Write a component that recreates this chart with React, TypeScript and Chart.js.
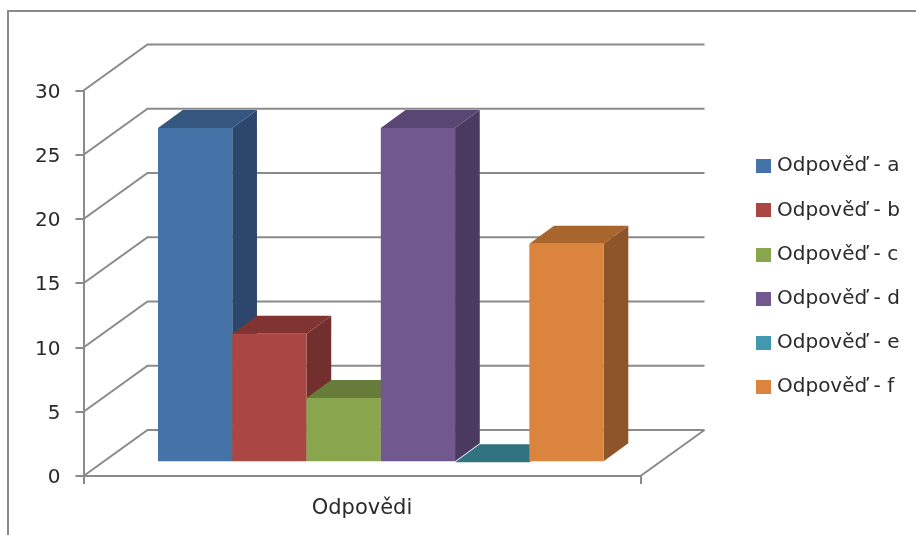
import React, { useEffect, useRef } from "react";
import { Chart, registerables } from "chart.js";

Chart.register(...registerables);

const categories = ["Odpovědi"];
const seriesNames = ["Odpověď - a", "Odpověď - b", "Odpověď - c", "Odpověď - d", "Odpověď - e", "Odpověď - f"];
const seriesValues = [26, 10, 5, 26, 0, 17];
const frontColors = ["#4572A7", "#AA4643", "#89A54E", "#71588F", "#4198AF", "#DB843D"];
const topColors = ["#34567F", "#7F3432", "#677C3B", "#5A4672", "#31727F", "#A8652E"];
const sideColors = ["#2C476B", "#722F2D", "#556631", "#4B3A60", "#285E6C", "#8D5529"];

const LINE = "#8a8a8a";
const INK = "#2a2a2a";
const FONT = { family: "'DejaVu Sans', sans-serif", size: 20 };
const CATEGORY_FONT = { family: "'DejaVu Sans', sans-serif", size: 21 };

// Projection of the 3D box: how far the back wall and the bar row sit from the front plane.
const WALL = { dx: 64, dy: -46 };
const ROW = { dx: 18.8, dy: -13.8 };
const BAR_DEPTH = { dx: 24.7, dy: -18 };

const AREA_RIGHT = 640.5;
// Legend swatches are small canvases, which keeps the text tight against them.
const SWATCH_SLOT = 7;
const LEGEND_X = 760;

function swatch(color: string) {
  const c = document.createElement("canvas");
  c.width = 15;
  c.height = 14;
  const g = c.getContext("2d")!;
  g.fillStyle = color;
  g.fillRect(0, 0, 15, 14);
  return c;
}

function polygon(ctx: CanvasRenderingContext2D, pts: number[][], fill: string) {
  ctx.beginPath();
  pts.forEach(([x, y], i) => (i ? ctx.lineTo(x, y) : ctx.moveTo(x, y)));
  ctx.closePath();
  ctx.fillStyle = fill;
  ctx.fill();
}

const pseudo3d = {
  id: "pseudo3d",
  afterLayout(chart: any) {
    // Pull the legend to its column to the right of the plot.
    const legend = chart.legend;
    const pad = legend.options.labels.padding;
    const shift = LEGEND_X - pad - legend.left;
    legend.left += shift;
    legend.right += shift;
    legend.top -= 6.5;
    legend.bottom -= 6.5;
  },
  beforeDraw(chart: any) {
    const { ctx, width, height } = chart;
    ctx.save();
    ctx.fillStyle = "#ffffff";
    ctx.fillRect(0, 0, width, height);
    // Outer chart frame, open towards the right and bottom edge of the page.
    ctx.strokeStyle = LINE;
    ctx.lineWidth = 2;
    ctx.beginPath();
    ctx.moveTo(8, height);
    ctx.lineTo(8, 11);
    ctx.lineTo(width, 11);
    ctx.stroke();
    ctx.restore();
  },
  beforeDatasetsDraw(chart: any) {
    const { ctx, chartArea, scales } = chart;
    const { left, right } = chartArea;
    const y = scales.y;
    ctx.save();
    ctx.strokeStyle = LINE;
    ctx.lineWidth = 2;
    // Side wall and back wall grid lines.
    y.ticks.forEach((t: any) => {
      const py = y.getPixelForValue(t.value);
      ctx.beginPath();
      ctx.moveTo(left, py);
      ctx.lineTo(left + WALL.dx, py + WALL.dy);
      ctx.lineTo(right + WALL.dx, py + WALL.dy);
      ctx.stroke();
    });
    // Right edge of the floor.
    const base = y.getPixelForValue(0);
    ctx.beginPath();
    ctx.moveTo(right, base);
    ctx.lineTo(right + WALL.dx, base + WALL.dy);
    ctx.stroke();

    // Bars are painted left to right so each front face covers its neighbour's side.
    ctx.translate(ROW.dx, ROW.dy);
    chart.data.datasets.forEach((_: any, i: number) => {
      const bar = chart.getDatasetMeta(i).data[0];
      const { x, y: top, base: bottom, width: w } = bar.getProps(["x", "y", "base", "width"]);
      const l = x - w / 2;
      const r = x + w / 2;
      const { dx, dy } = BAR_DEPTH;
      polygon(ctx, [[r, top], [r + dx, top + dy], [r + dx, bottom + dy], [r, bottom]], sideColors[i]);
      polygon(ctx, [[l, top], [r, top], [r + dx, top + dy], [l + dx, top + dy]], topColors[i]);
      bar.draw(ctx);
    });
    ctx.restore();
    return false;
  },
};

export default function App() {
  const ref = useRef<HTMLCanvasElement>(null);

  useEffect(() => {
    document.body.style.margin = "0";
    const swatches = frontColors.map(swatch);
    const chart = new Chart(ref.current!, {
      type: "bar",
      data: {
        labels: categories,
        datasets: seriesNames.map((label, i) => ({
          label,
          data: [seriesValues[i]],
          backgroundColor: frontColors[i],
          borderWidth: 0,
          categoryPercentage: 0.8,
          barPercentage: 1,
        })),
      },
      plugins: [pseudo3d],
      options: {
        animation: false,
        responsive: false,
        layout: { padding: { left: 0, top: 90.5, right: 80, bottom: 0 } },
        plugins: {
          tooltip: { enabled: false },
          legend: {
            position: "right",
            fullSize: false,
            labels: {
              usePointStyle: true,
              pointStyleWidth: SWATCH_SLOT,
              boxHeight: 14,
              padding: 24.2,
              color: INK,
              font: FONT,
              generateLabels(c: any) {
                return Chart.defaults.plugins.legend.labels
                  .generateLabels(c)
                  .map((item: any, i: number) => ({ ...item, pointStyle: swatches[i] }));
              },
            },
          },
        },
        scales: {
          x: {
            grid: { drawOnChartArea: false, color: LINE, lineWidth: 2, tickLength: 8 },
            border: { color: LINE, width: 2 },
            ticks: { color: INK, font: CATEGORY_FONT, padding: 12 },
            afterFit(scale: any) {
              scale.height = 59;
              scale.paddingLeft = scale.paddingRight = 0;
            },
          },
          y: {
            min: 0,
            max: 30,
            grid: { drawOnChartArea: false, color: LINE, lineWidth: 2, tickLength: 8 },
            border: { color: LINE, width: 2 },
            ticks: { stepSize: 5, color: INK, font: FONT, padding: 15, labelOffset: 2 },
            afterFit(scale: any) {
              scale.width = 83.5;
              scale.paddingTop = scale.paddingBottom = 0;
            },
          },
        },
      },
    });
    // The legend's width decides where the plot ends, so settle the right padding once measured.
    (chart.options.layout as any).padding.right += chart.chartArea.right - AREA_RIGHT;
    chart.update();
    return () => chart.destroy();
  }, []);

  return <canvas ref={ref} width={916} height={535} style={{ display: "block" }} />;
}
